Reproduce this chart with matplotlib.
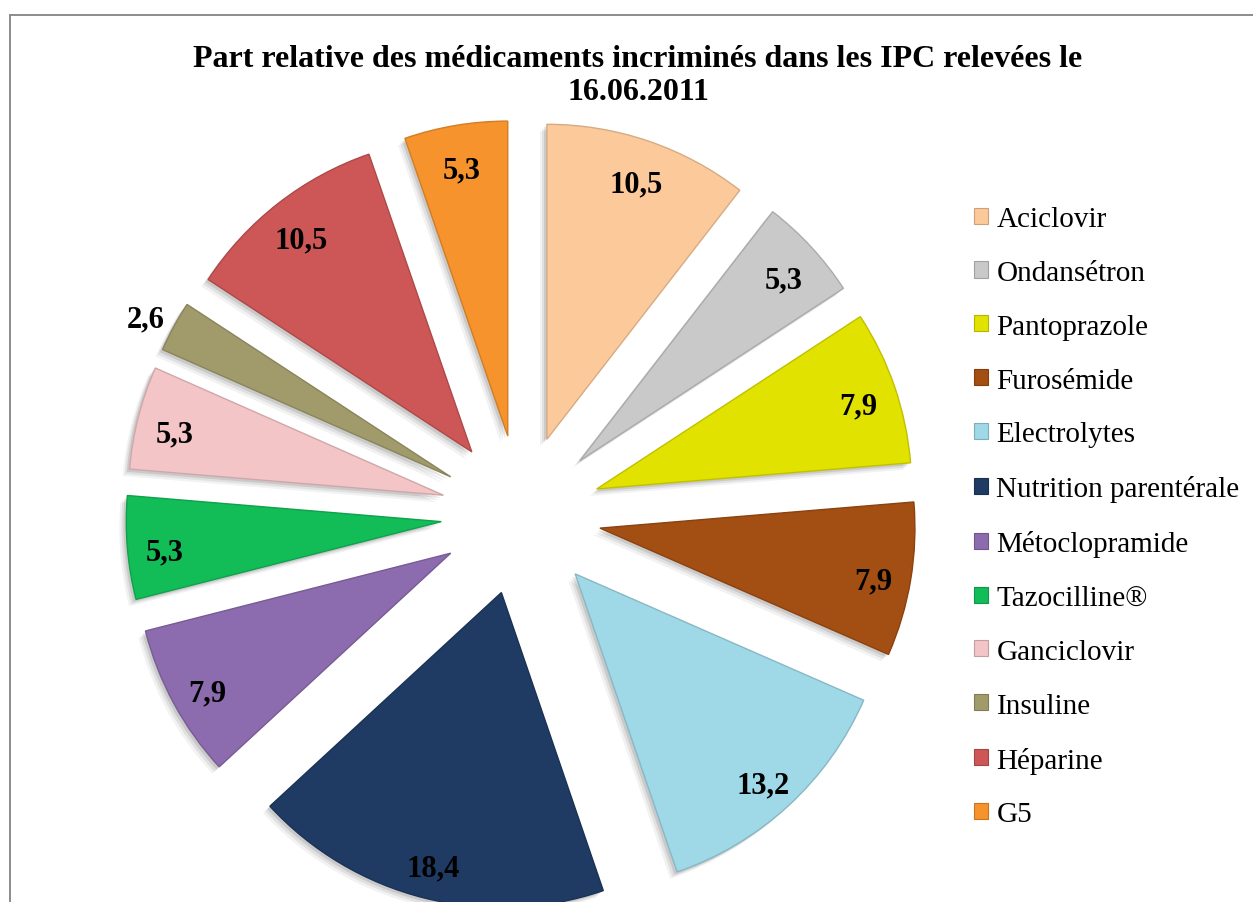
import numpy as np
import matplotlib
matplotlib.use("Agg")
import matplotlib.pyplot as plt
import matplotlib.patheffects as pe
from matplotlib.lines import Line2D
from matplotlib.patches import Patch

# ---- data ----
categories = ["Aciclovir", "Ondansétron", "Pantoprazole", "Furosémide", "Electrolytes",
              "Nutrition parentérale", "Métoclopramide", "Tazocilline®", "Ganciclovir",
              "Insuline", "Héparine", "G5"]
values = [10.5, 5.3, 7.9, 7.9, 13.2, 18.4, 7.9, 5.3, 5.3, 2.6, 10.5, 5.3]
value_labels = ["10,5", "5,3", "7,9", "7,9", "13,2", "18,4", "7,9", "5,3", "5,3", "2,6", "10,5", "5,3"]
colors = ["#FCC99A", "#C9C9C9", "#E2E200", "#A34E12", "#9FD8E7", "#1F3B63",
          "#8C6CAE", "#12BD58", "#F4C5C7", "#A19B6B", "#CD5656", "#F6932C"]
title = "Part relative des médicaments incriminés dans les IPC relevées le\n16.06.2011"

plt.rcParams['font.family'] = ['Liberation Serif', 'DejaVu Serif']

W, H = 1253, 903
fig = plt.figure(figsize=(W / 100, H / 100), dpi=100)
fig.patch.set_facecolor("white")

# frame (left and top edges visible)
fx, fy = 10 / W, 1 - 16 / H
fig.add_artist(Line2D([fx, fx], [0, fy], color="#8c8c8c", lw=1.4))
fig.add_artist(Line2D([fx, 1], [fy, fy], color="#8c8c8c", lw=1.4))

ax = fig.add_axes([0, 0, 1, 1])
ax.axis("off")

R_PX = 315.0
cx, cy = 521.0, 516.0
explode = [0.254] * len(values)


def darker(c, f=0.8):
    r, g, b = matplotlib.colors.to_rgb(c)
    return (r * f, g * f, b * f)


wedges, _ = ax.pie(values, colors=colors, startangle=90, counterclock=False,
                   explode=explode, radius=1.0,
                   wedgeprops=dict(linewidth=1.0))
for w, c in zip(wedges, colors):
    w.set_edgecolor(darker(c, 0.85))
    w.set_path_effects([
        pe.SimplePatchShadow(offset=(-5, -5), shadow_rgbFace="#000000", alpha=0.05),
        pe.SimplePatchShadow(offset=(-3.5, -3.5), shadow_rgbFace="#000000", alpha=0.07),
        pe.SimplePatchShadow(offset=(-2, -2), shadow_rgbFace="#000000", alpha=0.1),
        pe.Normal()])

ax.set_xlim(-cx / R_PX, (W - cx) / R_PX)
ax.set_ylim(-(H - cy) / R_PX, cy / R_PX)
ax.set_aspect("auto")

dy = -7 / R_PX  # small downward shift of the value labels
for i, (w, lab) in enumerate(zip(wedges, value_labels)):
    th = np.deg2rad((w.theta1 + w.theta2) / 2)
    frac = 1.10 if categories[i] == "Insuline" else 0.88
    x0, y0 = w.center
    ax.text(x0 + frac * np.cos(th), y0 + frac * np.sin(th) + dy, lab,
            ha="center", va="center", fontsize=22, fontweight="bold", color="black")

fig.text(638 / W, 1 - 45 / H, title, ha="center", va="top", fontsize=23,
         fontweight="bold", linespacing=1.2)

handles = [Patch(facecolor=c, edgecolor=darker(c, 0.8), linewidth=0.8) for c in colors]
leg = fig.legend(handles, categories, loc="upper left",
                 bbox_to_anchor=(974 / W, 1 - 207 / H), frameon=False,
                 fontsize=21, handlelength=0.47, handleheight=0.47,
                 handletextpad=0.3, labelspacing=0.955, borderaxespad=0,
                 borderpad=0)

fig.savefig("out.png", dpi=100, facecolor="white")
